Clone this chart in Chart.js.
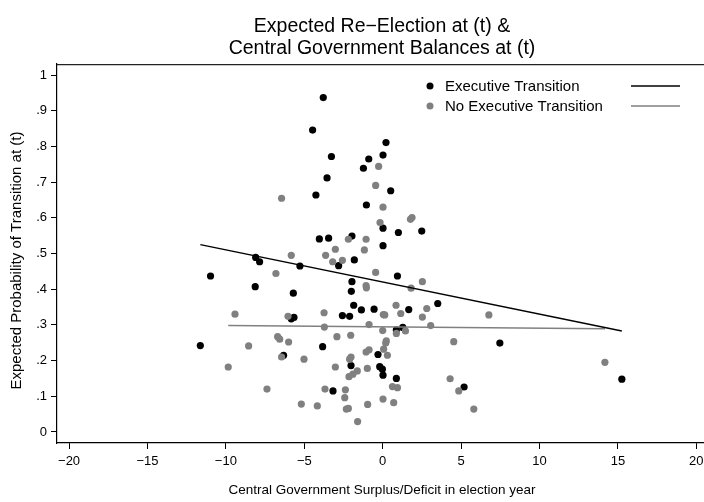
<!DOCTYPE html>
<html>
<head>
<meta charset="utf-8">
<title>Expected Re-Election and Central Government Balances</title>
<script src="https://cdn.jsdelivr.net/npm/chart.js@4/dist/chart.umd.min.js"></script>
<style>
  html, body { margin: 0; padding: 0; background: #ffffff; overflow: hidden; width: 704px; height: 502px; }
  #wrap { width: 720px; height: 502px; }
  canvas { display: block; }
</style>
</head>
<body>
<div id="wrap"><canvas id="chart" width="720" height="502"></canvas></div>
<script>
// Executive transition observations: budget balance (x) and expected probability (y)
const execX = [-3.79, -4.47, 0.21, 0.02, -0.89, -3.27, -1.23, -3.55, 0.51, -4.26,
  -1.04, 0.02, 1.00, 2.49, -4.04, -3.45, -1.96, 0.02, -1.81, -2.81,
  -5.28, -8.10, -7.85, 0.94, -10.98, -8.13, -5.70, -1.96, -2.00, 3.51,
  -1.85, -1.36, -0.55, 1.66, -2.57, -2.11, -5.83, -5.66, 1.28, 0.87,
  -11.63, -3.83, -0.30, -6.32, -2.02, -0.19, -0.02, 0.02, 0.87, -3.17,
  7.47, 15.25, 5.19];
const execY = [0.937, 0.846, 0.811, 0.776, 0.765, 0.772, 0.739, 0.712, 0.676, 0.664,
  0.636, 0.571, 0.559, 0.563, 0.541, 0.543, 0.549, 0.522, 0.482, 0.466,
  0.465, 0.489, 0.477, 0.437, 0.437, 0.407, 0.389, 0.421, 0.394, 0.360,
  0.355, 0.342, 0.344, 0.343, 0.326, 0.324, 0.317, 0.321, 0.293, 0.286,
  0.242, 0.239, 0.217, 0.215, 0.186, 0.183, 0.176, 0.159, 0.150, 0.115,
  0.249, 0.148, 0.126];

// No executive transition observations
const noExecX = [-0.26, -0.45, 0.02, -6.45, -0.17, 1.77, 1.87, -1.06, -2.19, -3.02,
  -1.17, -3.64, -5.83, -3.19, -2.57, -6.81, -0.45, 2.53, -1.06, -1.04,
  1.81, 0.85, 2.81, 0.13, 0.04, 1.15, 2.53, -3.74, -6.04, -0.87,
  -3.72, 3.06, 1.45, 0.87, 0.00, -2.04, -2.92, -6.70, -6.57, -6.00,
  -8.55, 0.23, 0.19, 0.06, 0.30, -0.87, -1.06, -2.02, -2.11, -6.45,
  -5.02, -3.02, -0.98, -1.62, -1.90, -2.15, 0.62, 0.94, 4.30, -7.38,
  -3.68, -2.38, -2.42, 0.02, 0.70, -5.19, -4.17, -0.96, -2.32, -2.19,
  -1.60, -9.42, -9.85, 6.77, 4.53, 14.17, 4.85, 5.81];
const noExecY = [0.744, 0.691, 0.630, 0.655, 0.587, 0.596, 0.601, 0.540, 0.540, 0.512,
  0.510, 0.495, 0.495, 0.477, 0.481, 0.444, 0.447, 0.421, 0.410, 0.404,
  0.403, 0.355, 0.346, 0.328, 0.329, 0.332, 0.322, 0.334, 0.324, 0.301,
  0.294, 0.298, 0.283, 0.276, 0.284, 0.271, 0.267, 0.267, 0.260, 0.252,
  0.241, 0.255, 0.249, 0.232, 0.215, 0.230, 0.224, 0.210, 0.204, 0.210,
  0.204, 0.182, 0.178, 0.171, 0.162, 0.155, 0.127, 0.124, 0.149, 0.120,
  0.120, 0.118, 0.096, 0.092, 0.082, 0.078, 0.073, 0.077, 0.064, 0.066,
  0.029, 0.330, 0.182, 0.328, 0.253, 0.195, 0.115, 0.064];

// Linear fit endpoints for each group
const fitExecX = [-11.63, 15.25];
const fitExecY = [0.525, 0.283];
const fitNoExecX = [-9.85, 14.17];
const fitNoExecY = [0.298, 0.289];

// Axis ticks
const xTicks = [-20, -15, -10, -5, 0, 5, 10, 15, 20];
const yTicks = [0, 0.1, 0.2, 0.3, 0.4, 0.5, 0.6, 0.7, 0.8, 0.9, 1];

const seriesNames = ['Executive Transition', 'No Executive Transition'];
const yTitle = 'Expected Probability of Transition at (t)';
const BLACK = '#000000';
const GRAY = '#808080';
const FONT = '"Liberation Sans", Arial, Helvetica, sans-serif';

const pts = (xs, ys) => xs.map((x, i) => ({ x: x, y: ys[i] }));

function fmtX(v) {
  return v < 0 ? '\u2212' + Math.abs(v) : String(v);
}
function fmtY(v) {
  if (v === 0) return '0';
  if (v === 1) return '1';
  return '.' + Math.round(v * 10);
}

// Frame top edge and the rotated y-axis title (centred slightly below the plot middle)
const framePlugin = {
  id: 'frame',
  beforeDatasetsDraw(chart) {
    const { ctx, chartArea } = chart;
    ctx.save();
    ctx.strokeStyle = '#222222';
    ctx.lineWidth = 1.2;
    ctx.beginPath();
    ctx.moveTo(chartArea.left, chartArea.top + 0.5);
    ctx.lineTo(chartArea.right, chartArea.top + 0.5);
    ctx.stroke();

    ctx.translate(17, (chartArea.top + chartArea.bottom) / 2 + 7);
    ctx.rotate(-Math.PI / 2);
    ctx.font = '15px ' + FONT;
    ctx.fillStyle = '#000000';
    ctx.textAlign = 'center';
    ctx.textBaseline = 'middle';
    ctx.fillText(yTitle, 0, 0);
    ctx.restore();
  }
};

// Key with marker, label and fit-line sample for each group
const legendPlugin = {
  id: 'keyBox',
  afterDraw(chart) {
    const { ctx } = chart;
    const rows = [
      { name: seriesNames[0], color: BLACK, y: 87 },
      { name: seriesNames[1], color: GRAY, y: 107 }
    ];
    ctx.save();
    ctx.font = '15px ' + FONT;
    ctx.textBaseline = 'middle';
    ctx.textAlign = 'left';
    rows.forEach(r => {
      ctx.fillStyle = r.color;
      ctx.beginPath();
      ctx.arc(430, r.y - 1, 3.5, 0, Math.PI * 2);
      ctx.fill();
      ctx.fillStyle = '#000000';
      ctx.fillText(r.name, 445, r.y);
      ctx.strokeStyle = r.color;
      ctx.lineWidth = 1.5;
      ctx.beginPath();
      ctx.moveTo(631, r.y - 1);
      ctx.lineTo(680, r.y - 1);
      ctx.stroke();
    });
    ctx.restore();
  }
};

new Chart(document.getElementById('chart'), {
  type: 'scatter',
  data: {
    datasets: [
      {
        label: seriesNames[0],
        data: pts(execX, execY),
        backgroundColor: BLACK,
        borderWidth: 0,
        pointRadius: 3.6,
        order: 4
      },
      {
        label: seriesNames[1],
        data: pts(noExecX, noExecY),
        backgroundColor: GRAY,
        borderWidth: 0,
        pointRadius: 3.6,
        order: 3
      },
      {
        type: 'line',
        label: 'Fit: ' + seriesNames[1],
        data: pts(fitNoExecX, fitNoExecY),
        borderColor: GRAY,
        borderWidth: 1.5,
        pointRadius: 0,
        fill: false,
        order: 2
      },
      {
        type: 'line',
        label: 'Fit: ' + seriesNames[0],
        data: pts(fitExecX, fitExecY),
        borderColor: BLACK,
        borderWidth: 1.5,
        pointRadius: 0,
        fill: false,
        order: 1
      }
    ]
  },
  options: {
    responsive: false,
    animation: false,
    events: [],
    layout: { padding: { left: 0, right: 13, top: 0, bottom: 0 } },
    plugins: {
      legend: { display: false },
      tooltip: { enabled: false },
      title: {
        display: true,
        fullSize: false,
        text: ['Expected Re\u2212Election at (t) &', 'Central Government Balances at (t)'],
        color: '#000000',
        font: { family: FONT, size: 19.5, weight: 'normal', lineHeight: 1.13 },
        padding: { top: 16, bottom: 4 }
      }
    },
    scales: {
      x: {
        type: 'linear',
        min: -20.77,
        max: 20.68,
        afterFit(scale) { scale.height = 59; },
        afterBuildTicks(scale) { scale.ticks = xTicks.map(v => ({ value: v })); },
        grid: {
          drawOnChartArea: false,
          drawTicks: true,
          tickLength: 6,
          tickColor: '#000000',
          tickWidth: 1
        },
        border: { display: true, color: '#000000', width: 1.2 },
        ticks: {
          color: '#000000',
          font: { family: FONT, size: 13 },
          padding: 5,
          maxRotation: 0,
          autoSkip: false,
          callback: (v) => fmtX(v)
        },
        title: {
          display: true,
          text: 'Central Government Surplus/Deficit in election year',
          color: '#000000',
          font: { family: FONT, size: 13.5 },
          padding: { top: 4, bottom: 4 }
        }
      },
      y: {
        type: 'linear',
        min: -0.031,
        max: 1.031,
        afterFit(scale) { scale.width = 57; },
        afterBuildTicks(scale) { scale.ticks = yTicks.map(v => ({ value: v })); },
        grid: {
          drawOnChartArea: false,
          drawTicks: true,
          tickLength: 6,
          tickColor: '#000000',
          tickWidth: 1
        },
        border: { display: true, color: '#000000', width: 1.2 },
        ticks: {
          color: '#000000',
          font: { family: FONT, size: 13 },
          padding: 4,
          autoSkip: false,
          callback: (v) => fmtY(v)
        },
        title: { display: false }
      }
    }
  },
  plugins: [framePlugin, legendPlugin]
});
</script>
</body>
</html>
